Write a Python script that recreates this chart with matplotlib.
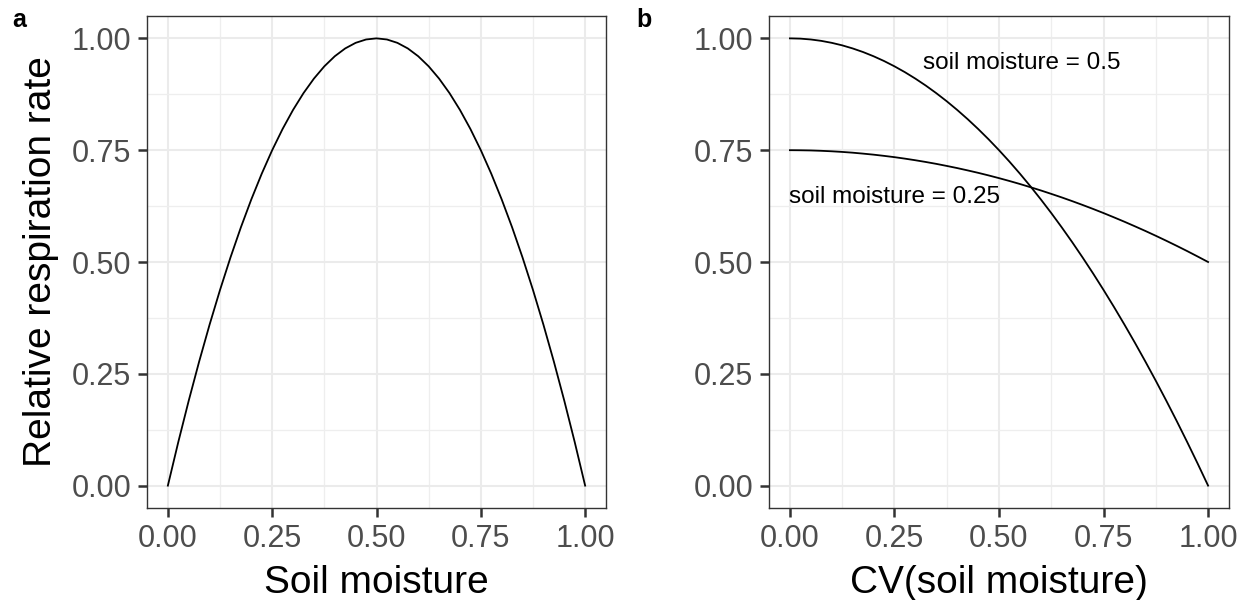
import matplotlib
matplotlib.use("Agg")
import matplotlib.pyplot as plt
from matplotlib.ticker import MultipleLocator

plt.rcParams['font.family'] = ['Liberation Sans', 'DejaVu Sans']

# Panel a: relative respiration vs soil moisture
moisture = [0.000, 0.025, 0.050, 0.075, 0.100, 0.125, 0.150, 0.175, 0.200, 0.225,
            0.250, 0.275, 0.300, 0.325, 0.350, 0.375, 0.400, 0.425, 0.450, 0.475,
            0.500, 0.525, 0.550, 0.575, 0.600, 0.625, 0.650, 0.675, 0.700, 0.725,
            0.750, 0.775, 0.800, 0.825, 0.850, 0.875, 0.900, 0.925, 0.950, 0.975, 1.000]
resp_a = [0.0000, 0.0975, 0.1900, 0.2775, 0.3600, 0.4375, 0.5100, 0.5775, 0.6400, 0.6975,
          0.7500, 0.7975, 0.8400, 0.8775, 0.9100, 0.9375, 0.9600, 0.9775, 0.9900, 0.9975,
          1.0000, 0.9975, 0.9900, 0.9775, 0.9600, 0.9375, 0.9100, 0.8775, 0.8400, 0.7975,
          0.7500, 0.6975, 0.6400, 0.5775, 0.5100, 0.4375, 0.3600, 0.2775, 0.1900, 0.0975, 0.0000]

# Panel b: relative respiration vs CV(soil moisture)
cv = [0.000, 0.025, 0.050, 0.075, 0.100, 0.125, 0.150, 0.175, 0.200, 0.225,
      0.250, 0.275, 0.300, 0.325, 0.350, 0.375, 0.400, 0.425, 0.450, 0.475,
      0.500, 0.525, 0.550, 0.575, 0.600, 0.625, 0.650, 0.675, 0.700, 0.725,
      0.750, 0.775, 0.800, 0.825, 0.850, 0.875, 0.900, 0.925, 0.950, 0.975, 1.000]
resp_m050 = [1.0000, 0.9994, 0.9975, 0.9944, 0.9900, 0.9844, 0.9775, 0.9694, 0.9600, 0.9494,
             0.9375, 0.9244, 0.9100, 0.8944, 0.8775, 0.8594, 0.8400, 0.8194, 0.7975, 0.7744,
             0.7500, 0.7244, 0.6975, 0.6694, 0.6400, 0.6094, 0.5775, 0.5444, 0.5100, 0.4744,
             0.4375, 0.3994, 0.3600, 0.3194, 0.2775, 0.2344, 0.1900, 0.1444, 0.0975, 0.0494, 0.0000]
resp_m025 = [0.7500, 0.7498, 0.7494, 0.7486, 0.7475, 0.7461, 0.7444, 0.7423, 0.7400, 0.7373,
             0.7344, 0.7311, 0.7275, 0.7236, 0.7194, 0.7148, 0.7100, 0.7048, 0.6994, 0.6936,
             0.6875, 0.6811, 0.6744, 0.6673, 0.6600, 0.6523, 0.6444, 0.6361, 0.6275, 0.6186,
             0.6094, 0.5998, 0.5900, 0.5798, 0.5694, 0.5586, 0.5475, 0.5361, 0.5244, 0.5123, 0.5000]

ticks = [0.00, 0.25, 0.50, 0.75, 1.00]
tick_labels = ["0.00", "0.25", "0.50", "0.75", "1.00"]

fig = plt.figure(figsize=(12.48, 6.0), dpi=100)
W, H = 1248, 600
ax_a = fig.add_axes([147 / W, 1 - 508 / H, 459 / W, 492 / H])
ax_b = fig.add_axes([769 / W, 1 - 508 / H, 460 / W, 492 / H])

for ax in (ax_a, ax_b):
    ax.set_xlim(-0.05, 1.05)
    ax.set_ylim(-0.05, 1.05)
    ax.set_xticks(ticks)
    ax.set_xticklabels(tick_labels)
    ax.set_yticks(ticks)
    ax.set_yticklabels(tick_labels)
    ax.xaxis.set_minor_locator(MultipleLocator(0.125))
    ax.yaxis.set_minor_locator(MultipleLocator(0.125))
    ax.grid(True, which='major', color='#EBEBEB', linewidth=1.5)
    ax.grid(True, which='minor', color='#EEEEEE', linewidth=0.9)
    ax.set_axisbelow(True)
    for s in ax.spines.values():
        s.set_color('#333333')
        s.set_linewidth(1.0)
    ax.tick_params(which='major', direction='out', length=6.5, width=1.8,
                   color='#333333', labelcolor='#4D4D4D', labelsize=22, pad=5)
    ax.tick_params(which='minor', length=0)

ax_a.plot(moisture, resp_a, color='black', linewidth=1.3)
ax_a.set_xlabel("Soil moisture", fontsize=28, color='black', labelpad=8)
ax_a.set_ylabel("Relative respiration rate", fontsize=28, color='black', labelpad=9)

ax_b.plot(cv, resp_m050, color='black', linewidth=1.3)
ax_b.plot(cv, resp_m025, color='black', linewidth=1.3)
ax_b.text(0.555, 0.945, "soil moisture = 0.5", fontsize=17.5, ha='center', va='center')
ax_b.text(0.25, 0.645, "soil moisture = 0.25", fontsize=17.5, ha='center', va='center')
ax_b.set_xlabel("CV(soil moisture)", fontsize=28, color='black', labelpad=8)

fig.text(19 / W, 1 - 20 / H, "a", fontsize=18, fontweight='bold', ha='center', va='center')
fig.text(644 / W, 1 - 20 / H, "b", fontsize=18, fontweight='bold', ha='center', va='center')

fig.savefig("out.png", dpi=100, facecolor='white')
